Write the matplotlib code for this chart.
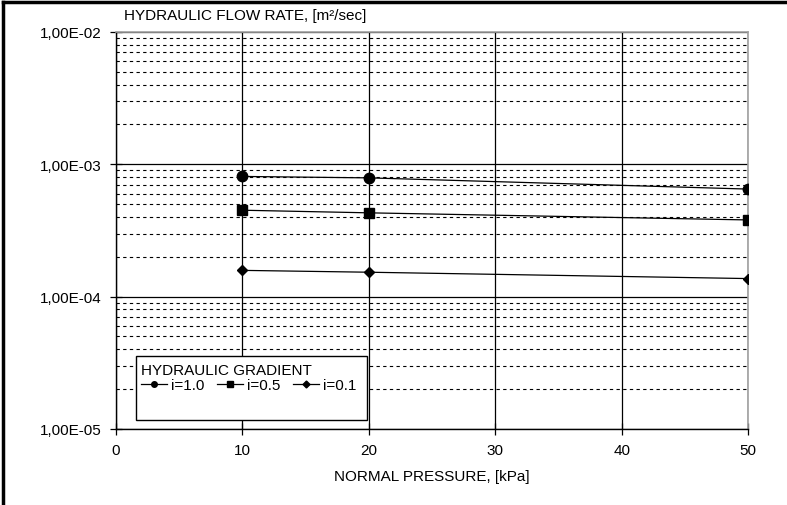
import matplotlib
matplotlib.use("Agg")
import matplotlib.pyplot as plt
from matplotlib.lines import Line2D
from matplotlib.patches import Rectangle
from matplotlib.ticker import FixedLocator, FuncFormatter, LogLocator, NullFormatter

plt.rcParams["font.family"] = ["Liberation Sans", "DejaVu Sans"]
plt.rcParams["font.size"] = 11

# data
pressure = [10, 20, 50]
flow_i10 = [8.1e-4, 7.9e-4, 6.5e-4]
flow_i05 = [4.5e-4, 4.3e-4, 3.8e-4]
flow_i01 = [1.58e-4, 1.53e-4, 1.37e-4]
labels = ["i=1.0", "i=0.5", "i=0.1"]
x_ticks = [0, 10, 20, 30, 40, 50]


def sci_comma(v, pos):
    s = "%.2E" % v
    mant, exp = s.split("E")
    return mant.replace(".", ",") + "E" + exp[0] + exp[1:].zfill(2)


fig = plt.figure(figsize=(7.87, 5.06), dpi=100)
ax = fig.add_axes([0.1474, 0.1502, 0.8031, 0.7846])

series = [
    (flow_i10, "o", 7.5),
    (flow_i05, "s", 7),
    (flow_i01, "D", 5.5),
]
for vals, mk, ms in series:
    ax.plot(pressure, vals, color="black", lw=0.9, marker=mk, ms=ms,
            markerfacecolor="black", markeredgecolor="black", zorder=4)

ax.set_yscale("log")
ax.set_ylim(1e-5, 1e-2)
ax.set_xlim(0, 50)

ax.xaxis.set_major_locator(FixedLocator(x_ticks))
ax.yaxis.set_major_locator(LogLocator(base=10, numticks=10))
ax.yaxis.set_minor_locator(LogLocator(base=10, subs=range(2, 10), numticks=20))
ax.yaxis.set_major_formatter(FuncFormatter(sci_comma))
ax.yaxis.set_minor_formatter(NullFormatter())

ax.tick_params(axis="both", which="major", direction="inout", length=8,
               width=0.9, colors="black", pad=6)
ax.tick_params(axis="y", which="minor", length=0)

# grid lines
ax.grid(True, which="major", axis="y", color="black", lw=0.9, ls="-")
ax.grid(True, which="major", axis="x", color="black", lw=0.9, ls="-")
ax.grid(True, which="minor", axis="y", color="black", lw=0.8, ls=(0, (3, 3)))
ax.set_axisbelow(True)

for side in ["left", "bottom"]:
    ax.spines[side].set_color("black")
    ax.spines[side].set_linewidth(1.0)
for side in ["top", "right"]:
    ax.spines[side].set_color("#a0a0a0")
    ax.spines[side].set_linewidth(1.2)

ax.set_xlabel("NORMAL PRESSURE, [kPa]", labelpad=9)
fig.text(124 / 787, 1 - 16 / 506, "HYDRAULIC FLOW RATE, [m²/sec]",
         ha="left", va="center")

# legend box: white frame drawn separately so it can be taller than its contents
box = Rectangle((136 / 787, 1 - 421 / 506), (367 - 136) / 787, 64 / 506,
                transform=fig.transFigure, facecolor="white",
                edgecolor="black", lw=1.0, zorder=5)
fig.add_artist(box)

handles = [
    Line2D([], [], color="black", lw=0.9, marker="o", ms=4),
    Line2D([], [], color="black", lw=0.9, marker="s", ms=5),
    Line2D([], [], color="black", lw=0.9, marker="D", ms=3.5),
]
leg = fig.legend(handles, labels, ncol=3,
                 title="HYDRAULIC GRADIENT", alignment="left",
                 loc="upper left", bbox_to_anchor=(136 / 787, 1 - 359 / 506),
                 bbox_transform=fig.transFigure, frameon=False,
                 handlelength=1.7, handletextpad=0.3, columnspacing=0.8,
                 borderpad=0.3, borderaxespad=0, title_fontsize=11)
leg._legend_box.sep = 1
leg.set_zorder(6)

# outer frame edges visible at top and left
fig.add_artist(Line2D([3 / 787, 1], [1 - 3 / 506, 1 - 3 / 506],
                      transform=fig.transFigure, color="black", lw=2.5))
fig.add_artist(Line2D([3 / 787, 3 / 787], [0, 1 - 3 / 506],
                      transform=fig.transFigure, color="black", lw=2.5))

fig.savefig("out.png", dpi=100)
